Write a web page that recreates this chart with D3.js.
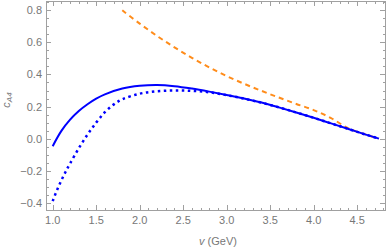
<!DOCTYPE html>
<html>
<head>
<meta charset="utf-8">
<script src="https://cdn.jsdelivr.net/npm/d3@7"></script>
<style>
  body { margin: 0; background: #fff; }
  text { font-family: "Liberation Sans", Arial, sans-serif; }
</style>
</head>
<body>
<script>
// chart values
var solidV = [1.0, 1.1, 1.2, 1.3, 1.4, 1.5, 1.6, 1.8, 2.0, 2.2, 2.4, 2.6, 2.8, 3.0, 3.2, 3.4, 3.6, 3.8, 4.0, 4.2, 4.4, 4.6, 4.75];
var solidC = [-0.047, 0.048, 0.118, 0.172, 0.214, 0.249, 0.276, 0.312, 0.329, 0.334, 0.327, 0.312, 0.293, 0.272, 0.25, 0.225, 0.195, 0.163, 0.13, 0.095, 0.06, 0.025, 0.0];

var dottedV = [1.0, 1.05, 1.1, 1.15, 1.2, 1.3, 1.4, 1.5, 1.6, 1.7, 1.8, 2.0, 2.2, 2.4, 2.6, 2.8, 3.0, 3.2, 3.4, 3.6, 3.8, 4.0, 4.2, 4.4, 4.6, 4.75];
var dottedC = [-0.39, -0.32, -0.26, -0.205, -0.155, -0.06, 0.025, 0.1, 0.165, 0.212, 0.245, 0.28, 0.295, 0.3, 0.298, 0.289, 0.271, 0.249, 0.224, 0.195, 0.163, 0.13, 0.095, 0.06, 0.025, 0.0];

var dashedV = [1.8, 2.0, 2.2, 2.4, 2.6, 2.8, 3.0, 3.2, 3.4, 3.6, 3.8, 4.0, 4.2, 4.4, 4.6, 4.75];
var dashedC = [0.8, 0.717, 0.64, 0.569, 0.504, 0.444, 0.39, 0.342, 0.298, 0.256, 0.216, 0.178, 0.128, 0.064, 0.025, 0.0];

var xTicks = [1.0, 1.5, 2.0, 2.5, 3.0, 3.5, 4.0, 4.5];
var yTicks = [-0.4, -0.2, 0.0, 0.2, 0.4, 0.6, 0.8];

var w = 387, h = 251;
var padL = 46, padR = 385, padT = 1, padB = 210; // frame edges in px

var svg = d3.select("body").append("svg").attr("width", w).attr("height", h);

var x = d3.scaleLinear().domain([0.923, 4.82]).range([padL, padR]);
var y = d3.scaleLinear().domain([-0.445, 0.858]).range([padB, padT]);

var frameColor = "#a0a0a0";
var labelColor = "#777777";

// minor ticks
var xMinor = d3.range(0.9, 4.85, 0.1).filter(function (v) { return v >= 0.923 && v <= 4.82; });
var yMinor = d3.range(-0.45, 0.86, 0.05).filter(function (v) { return v >= -0.445 && v <= 0.858; });

function isMajor(v, list) {
  return list.some(function (t) { return Math.abs(t - v) < 1e-6; });
}

var g = svg.append("g").attr("stroke", frameColor).attr("stroke-width", 1).attr("shape-rendering", "crispEdges");

xMinor.forEach(function (v) {
  var len = isMajor(v, xTicks) ? 5 : 2.5;
  var px = Math.round(x(v)) + 0.5;
  g.append("line").attr("x1", px).attr("x2", px).attr("y1", padB).attr("y2", padB - len);
  g.append("line").attr("x1", px).attr("x2", px).attr("y1", padT).attr("y2", padT + len);
});
yMinor.forEach(function (v) {
  var len = isMajor(v, yTicks) ? 5 : 2.5;
  var py = Math.round(y(v)) + 0.5;
  g.append("line").attr("x1", padL).attr("x2", padL + len).attr("y1", py).attr("y2", py);
  g.append("line").attr("x1", padR).attr("x2", padR - len).attr("y1", py).attr("y2", py);
});

g.append("rect").attr("x", padL + 0.5).attr("y", padT + 0.5)
  .attr("width", padR - padL).attr("height", padB - padT)
  .attr("fill", "none");

// tick labels
svg.selectAll(".xl").data(xTicks).enter().append("text")
  .attr("x", function (d) { return x(d); })
  .attr("y", 224)
  .attr("text-anchor", "middle")
  .attr("font-size", 11)
  .attr("fill", labelColor)
  .text(function (d) { return d.toFixed(1); });

svg.selectAll(".yl").data(yTicks).enter().append("text")
  .attr("x", 42)
  .attr("y", function (d) { return y(d) + 4; })
  .attr("text-anchor", "end")
  .attr("font-size", 11)
  .attr("fill", labelColor)
  .text(function (d) { return (d < 0 ? "\u2212" : "") + Math.abs(d).toFixed(1); });

// axis titles
var xt = svg.append("text").attr("x", 218).attr("y", 245).attr("text-anchor", "middle")
  .attr("font-size", 11).attr("fill", labelColor);
xt.append("tspan").attr("font-style", "italic").text("v");
xt.append("tspan").text(" (GeV)");

var yt = svg.append("text").attr("transform", "translate(10,100) rotate(-90)")
  .attr("text-anchor", "middle").attr("font-size", 11).attr("fill", labelColor);
yt.append("tspan").attr("font-style", "italic").text("c");
yt.append("tspan").attr("font-size", 8).attr("dy", 2).attr("font-style", "italic").text("A4");

// curves
var line = d3.line().curve(d3.curveCatmullRom.alpha(0.5))
  .x(function (d) { return x(d[0]); })
  .y(function (d) { return y(d[1]); });

function pairs(vs, cs) { return vs.map(function (v, i) { return [v, cs[i]]; }); }

var plot = svg.append("g");

plot.append("path").datum(pairs(dashedV, dashedC)).attr("d", line)
  .attr("fill", "none").attr("stroke", "#ff8c1a").attr("stroke-width", 2)
  .attr("stroke-dasharray", "5,4");

plot.append("path").datum(pairs(dottedV, dottedC)).attr("d", line)
  .attr("fill", "none").attr("stroke", "#0000ff").attr("stroke-width", 2.5)
  .attr("stroke-dasharray", "2.5,3.5");

plot.append("path").datum(pairs(solidV, solidC)).attr("d", line)
  .attr("fill", "none").attr("stroke", "#0000ff").attr("stroke-width", 2);
</script>
</body>
</html>
